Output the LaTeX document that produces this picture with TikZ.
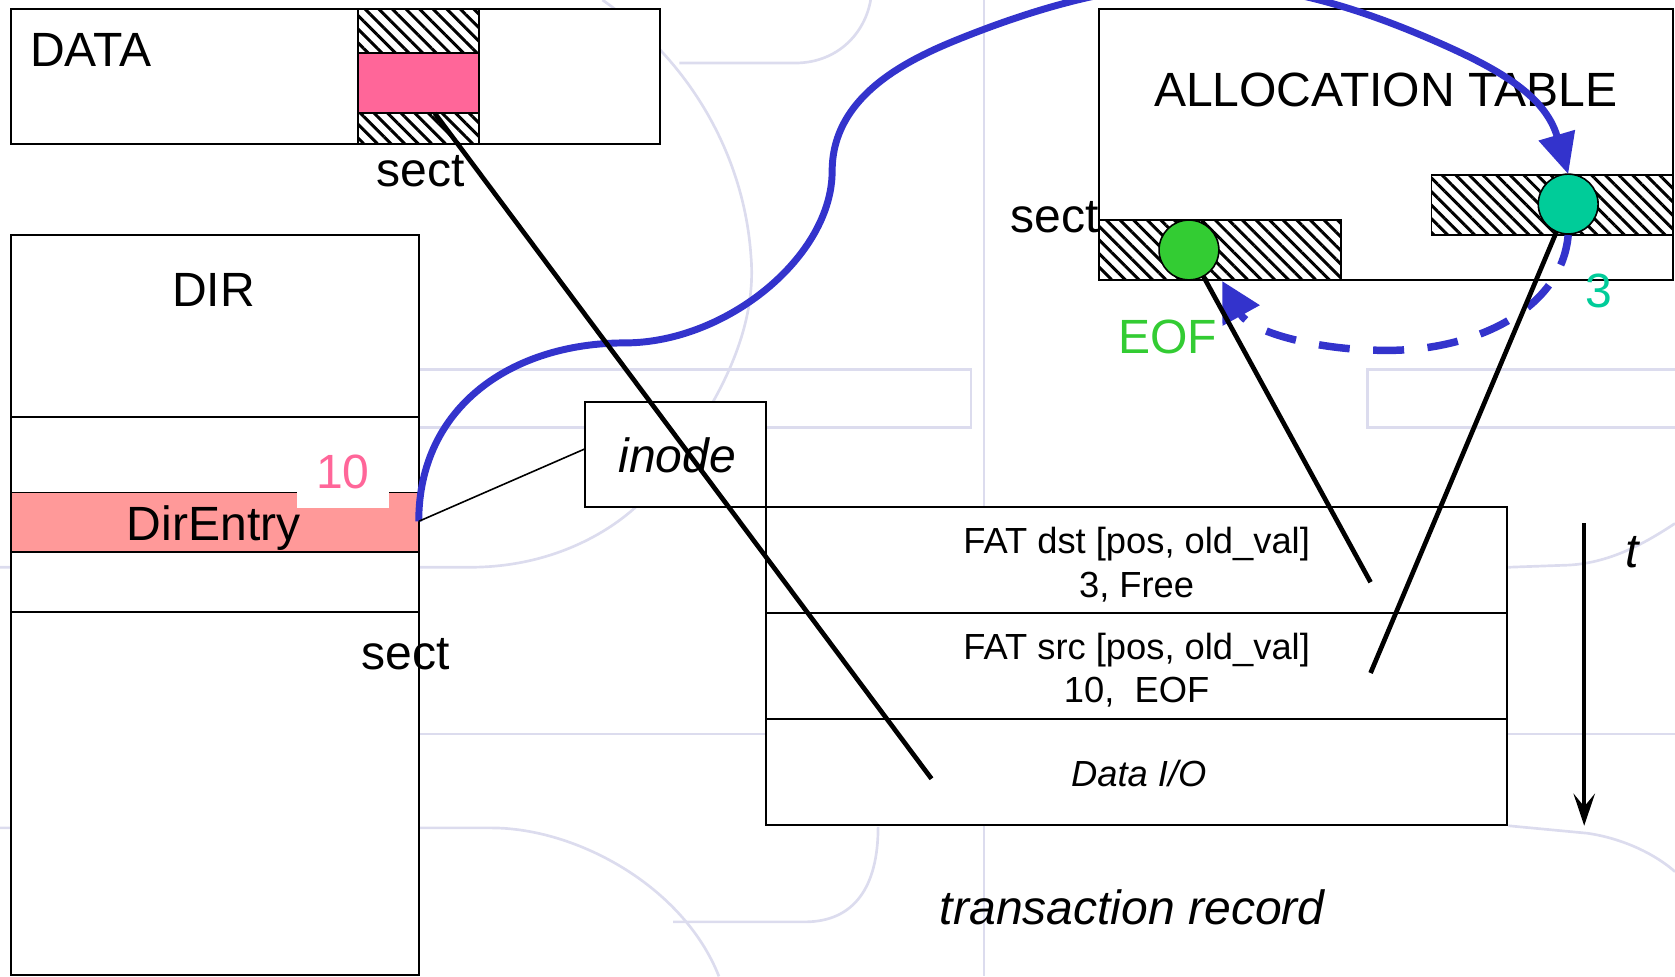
\documentclass[tikz,border=0pt]{standalone}
\usepackage{fontspec}
\setmainfont{Liberation Sans}
\usetikzlibrary{patterns.meta,arrows.meta}
\definecolor{dpink}{HTML}{FF6699}
\definecolor{lpink}{HTML}{FF9999}
\definecolor{eofgreen}{HTML}{33CC33}
\definecolor{tealdot}{HTML}{00CC99}
\definecolor{fblue}{HTML}{3333CC}
\definecolor{bgline}{HTML}{DCDCEE}
\begin{document}
\begin{tikzpicture}[x=1pt,y=-1pt,
  box/.style={draw=black, fill=white, line width=1.8pt},
  hatch/.style={draw=black, line width=1.8pt, pattern={Lines[angle=-45,distance=9pt,line width=2.8pt]}},
  big/.style={font=\fontsize{45}{54}\selectfont, inner sep=0pt, anchor=base},
  med/.style={font=\fontsize{34}{40}\selectfont, inner sep=0pt, anchor=base},
  link/.style={draw=black, line width=4.4pt},
  bgl/.style={draw=bgline, line width=2.5pt},
  flow/.style={draw=fblue, line width=6.5pt},
  dot/.style={circle, draw=black, line width=1.5pt, minimum size=56pt, inner sep=0pt},
]
\useasboundingbox (0,0) rectangle (1568,914);
% faint background template
\draw[bgl] (921,0) -- (921,914);
\draw[bgl] (300,346) -- (909,346) -- (909,400) -- (300,400);
\draw[bgl] (1568,346) -- (1280,346) -- (1280,400) -- (1568,400);
\draw[bgl] (392,687) -- (1568,687);
\draw[bgl] (0,531) -- (440,531) .. controls (520,531) and (575,495) .. (600,470)
  .. controls (660,400) and (710,320) .. (703,240) .. controls (697,150) and (650,60) .. (564,0);
\draw[bgl] (636,59) -- (744,59) .. controls (785,59) and (810,30) .. (815,0);
\draw[bgl] (0,775) -- (460,775) .. controls (540,775) and (640,830) .. (673,914);
\draw[bgl] (822,774) .. controls (822,830) and (800,863) .. (753,863) -- (630,863);
\draw[bgl] (1412,531) -- (1468,529) .. controls (1510,527) and (1545,505) .. (1568,490);
\draw[bgl] (1412,773) -- (1486,780) .. controls (1520,785) and (1550,800) .. (1568,816);

% DATA area
\draw[box] (10,8) rectangle (618,135);
\node[big, anchor=base west] (datat) at (28,62) {DATA};
\draw[hatch] (335,8) rectangle (448,50);
\draw[draw=black, line width=1.8pt, fill=dpink] (335,50) rectangle (448,106);
\draw[hatch] (335,106) rectangle (448,135);
\node[big] (sect1) at (394,175) {sect};

% DIR area
\draw[box] (10,220) rectangle (392,912.5);
\draw[line width=1.8pt, fill=lpink] (10,461) rectangle (392,517);
\draw[line width=1.8pt] (10,390) -- (392,390);
\draw[line width=1.8pt] (10,573) -- (392,573);
\node[big] (dirt) at (200,287) {DIR};
\node[big] (de) at (200,506) {DirEntry};
\node[big, text=dpink, fill=white, text height=32pt, text depth=19pt, minimum width=86pt] (ten) at (321,457) {10};
\node[big] (sect2) at (380,627) {sect};

% inode and transaction record
\node[box, minimum width=169pt, minimum height=99pt, inner sep=0pt] (inode) at (632.5,425.5) {};
\node[big, font=\fontsize{45}{54}\selectfont\itshape] (inodet) at (634,442) {inode};
\draw[box] (717,475) rectangle (1411,772);
\draw[line width=1.8pt] (717,574) -- (1411,574);
\draw[line width=1.8pt] (717,673) -- (1411,673);
\node[med] (r1a) at (1064,518) {FAT dst [pos, old\_val]};
\node[med] (r1b) at (1064,559) {3, Free};
\node[med] (r2a) at (1064,617) {FAT src [pos, old\_val]};
\node[med] (r2b) at (1064,658) {10,\ \ EOF};
\node[med, font=\fontsize{34}{40}\selectfont\itshape] (r3) at (1066,736) {Data I/O};
\node[big, font=\fontsize{45}{54}\selectfont\itshape] (trec) at (1060,865) {transaction record};

% time arrow
\coordinate (tA) at (1483,490);
\coordinate (tB) at (1483,773);
\draw[line width=4pt, -{Stealth[length=30pt,width=20pt,inset=12pt]}] (tA) -- (tB);
\node[big, font=\fontsize{45}{54}\selectfont\itshape] (tlab) at (1528,531) {t};

% allocation table
\draw[box] (1029,8) rectangle (1566,262);
\node[big] (att) at (1297,100) {ALLOCATION TABLE};
\draw[hatch] (1029,206) rectangle (1255,262);
\draw[hatch] (1340,164) rectangle (1566,220);
\node[big, anchor=base east] (sect3) at (1029,218) {sect};
\node[big, text=eofgreen] (eof) at (1093,331) {EOF};
\node[big, text=tealdot] (three) at (1497,288) {3};

% connector end points
\coordinate (deR) at (392,488);
\coordinate (inL) at (548,420);
\coordinate (gc) at (1113,234);
\coordinate (tc) at (1468,191);
\coordinate (tTop) at (1468,163);
\coordinate (tBot) at (1468,220);
\coordinate (gArr) at (1144,263);
\coordinate (dsect) at (407,106);
\coordinate (dio) at (872,729);
\coordinate (dst) at (1283,545);
\coordinate (src) at (1283,630);

% blue flows
\draw[flow, -{Triangle[length=38pt,width=34pt]}] (deR) .. controls (392,380) and (480,321) .. (585,321)
  .. controls (680,321) and (779,240) .. (779,160)
  .. controls (779,90) and (849,56) .. (899,36)
  .. controls (1079,-36) and (1190,-27.5) .. (1340,37)
  .. controls (1400,63) and (1446,88) .. (tTop);
\draw[flow, line width=7pt, dash pattern=on 29pt off 22pt, -{Triangle[length=37pt,width=38pt]}] (tBot)
  .. controls (1462,290) and (1380,328) .. (1299,328)
  .. controls (1230,328) and (1170,310) .. (gArr);

% black links
\draw[line width=1.5pt] (deR) -- (inL);
\draw[link] (dsect) -- (dio);
\draw[link] (gc) -- (dst);
\draw[link] (tc) -- (src);

% dots
\node[dot, fill=eofgreen] (gdot) at (gc) {};
\node[dot, fill=tealdot] (tdot) at (tc) {};
\end{tikzpicture}
\end{document}
